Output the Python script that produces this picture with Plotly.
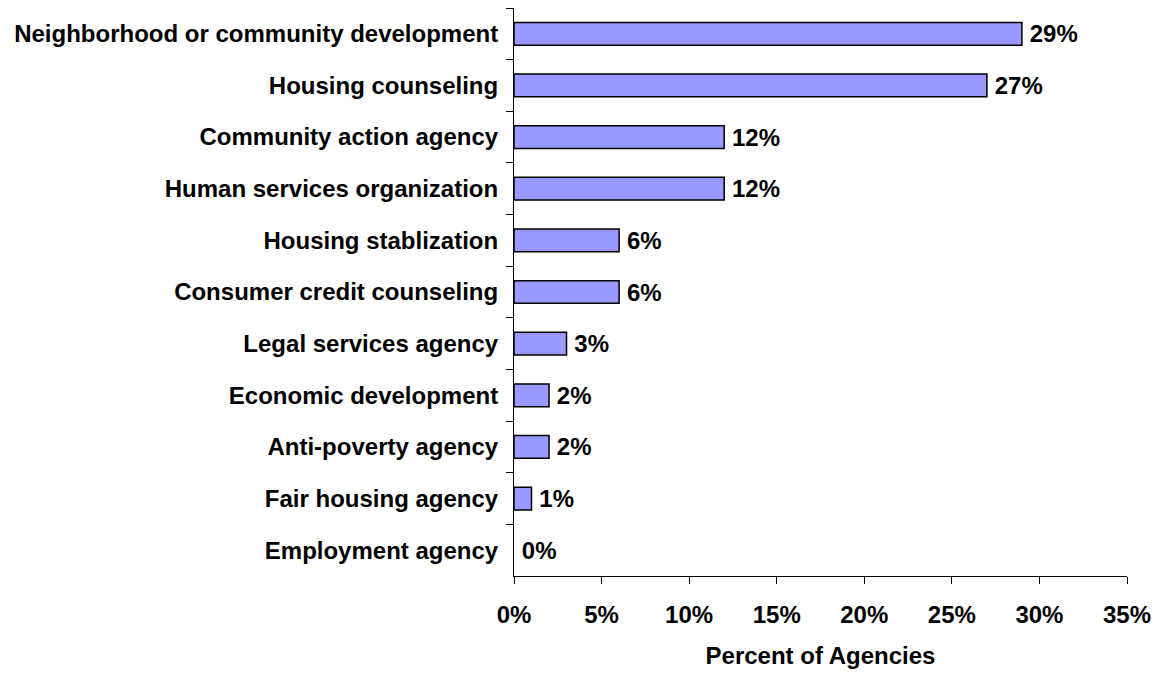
import plotly.graph_objects as go

# Agency types and their share of agencies (percent)
categories = [
    "Neighborhood or community development",
    "Housing counseling",
    "Community action agency",
    "Human services organization",
    "Housing stablization",
    "Consumer credit counseling",
    "Legal services agency",
    "Economic development",
    "Anti-poverty agency",
    "Fair housing agency",
    "Employment agency",
]
percent = [29, 27, 12, 12, 6, 6, 3, 2, 2, 1, 0]
x_ticks = [0, 5, 10, 15, 20, 25, 30, 35]
x_tick_labels = [f"<b>{v}%</b>" for v in x_ticks]

FONT = "Liberation Sans, Arial, sans-serif"
FS = 24

# zero-length bars get no outline
outline_widths = [1.5 if v > 0 else 0 for v in percent]

fig = go.Figure(
    go.Bar(
        y=categories,
        x=percent,
        orientation="h",
        marker=dict(color="#9999FF", line=dict(color="black", width=outline_widths)),
        text=[f"<b>\u2009{v}%</b>" for v in percent],
        textposition="outside",
        constraintext="none",
        textfont=dict(family=FONT, size=FS, color="black"),
        cliponaxis=False,
    )
)

fig.update_layout(
    width=1159,
    height=673,
    margin=dict(l=514, r=32, t=8, b=93),
    paper_bgcolor="white",
    plot_bgcolor="white",
    bargap=0.56,
    showlegend=False,
    font=dict(family=FONT, size=FS, color="black"),
    uniformtext=dict(mode=False),
)

fig.update_xaxes(
    range=[0, 35],
    tickmode="array",
    tickvals=x_ticks,
    ticktext=x_tick_labels,
    showgrid=False,
    zeroline=False,
    showline=True,
    linecolor="black",
    linewidth=1,
    ticks="outside",
    ticklen=7,
    tickcolor="black",
    ticklabelstandoff=10,
    tickfont=dict(family=FONT, size=FS, color="black"),
    title=dict(text="<b>Percent of Agencies</b>", font=dict(family=FONT, size=FS), standoff=20),
)

fig.update_yaxes(
    categoryorder="array",
    categoryarray=categories,
    autorange="reversed",
    showgrid=False,
    zeroline=False,
    showline=True,
    linecolor="black",
    linewidth=1,
    ticks="outside",
    tickson="boundaries",
    ticklen=7,
    tickcolor="black",
    ticklabelstandoff=10,
    tickfont=dict(family=FONT, size=FS, color="black"),
    tickprefix="<b>",
    ticksuffix="</b>",
)

fig.write_html("out.html")
